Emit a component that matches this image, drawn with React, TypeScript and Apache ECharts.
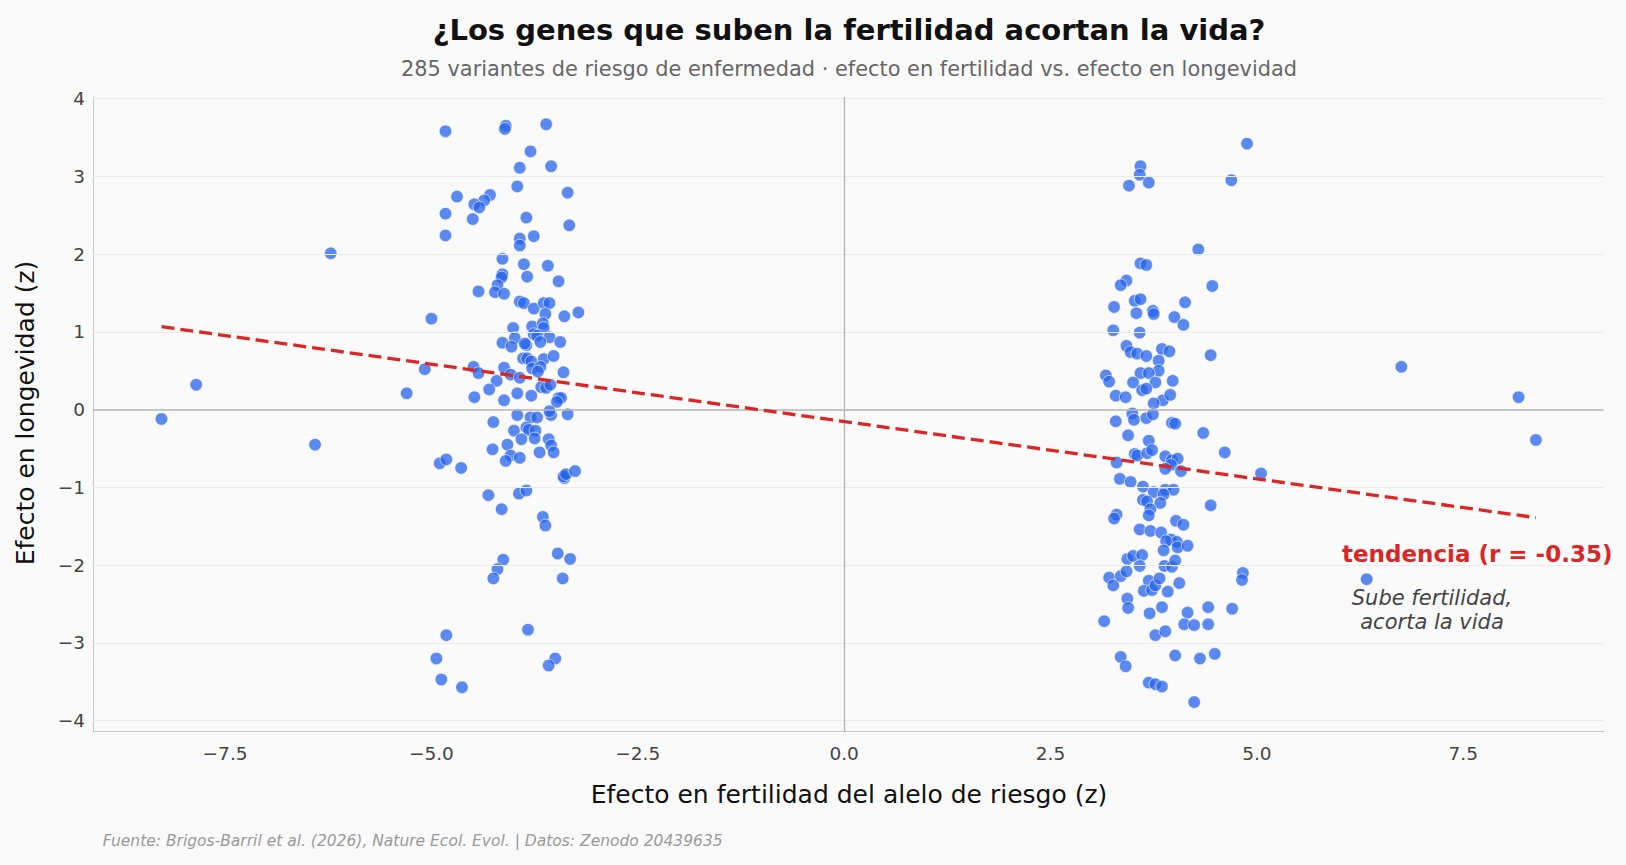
import { useEffect, useRef } from "react";
import * as echarts from "echarts";

const FONT = "DejaVu Sans";
const RED = "#dc2626";
const BLUE = "#2563eb";

// Risk alleles that lower fertility: [fertility effect z, longevity effect z]
const lowersFertility: [number, number][] = [
  [-8.27, -0.12], [-7.85, 0.32], [-6.41, -0.45], [-6.22, 2.01], [-5.3, 0.21], [-5.08, 0.52], [-5.0, 1.17],
  [-4.83, 3.58], [-4.1, 3.65], [-4.11, 3.61], [-3.61, 3.67], [-3.8, 3.32], [-3.93, 3.11], [-3.55, 3.13],
  [-3.96, 2.87], [-3.35, 2.79], [-4.69, 2.74], [-4.29, 2.76], [-4.36, 2.69], [-4.48, 2.64], [-4.42, 2.6],
  [-4.83, 2.52], [-4.5, 2.45], [-3.85, 2.47], [-3.33, 2.37], [-4.83, 2.24], [-3.93, 2.2], [-3.93, 2.11],
  [-3.76, 2.23], [-4.14, 1.94], [-3.88, 1.87], [-3.59, 1.85], [-3.84, 1.71], [-3.46, 1.65], [-4.14, 1.74],
  [-4.15, 1.7], [-4.2, 1.6], [-4.43, 1.52], [-4.23, 1.51], [-4.12, 1.49], [-3.93, 1.39], [-3.88, 1.37],
  [-3.76, 1.3], [-3.64, 1.37], [-3.57, 1.37], [-3.62, 1.23], [-3.39, 1.2], [-3.22, 1.25], [-4.01, 1.05],
  [-3.78, 1.07], [-3.65, 1.11], [-3.64, 1.05], [-3.99, 0.92], [-3.76, 0.97], [-3.72, 0.95], [-3.57, 0.93],
  [-3.44, 0.87], [-4.14, 0.86], [-4.03, 0.81], [-3.85, 0.83], [-3.87, 0.85], [-3.68, 0.87], [-3.89, 0.66],
  [-3.84, 0.66], [-3.79, 0.62], [-3.64, 0.65], [-3.52, 0.69], [-3.78, 0.53], [-3.68, 0.55], [-3.71, 0.49],
  [-3.4, 0.48], [-4.12, 0.54], [-4.49, 0.55], [-4.43, 0.47], [-4.04, 0.45], [-3.93, 0.41], [-4.21, 0.37],
  [-4.3, 0.26], [-4.48, 0.16], [-4.12, 0.12], [-3.96, 0.21], [-3.79, 0.18], [-3.67, 0.29], [-3.61, 0.28],
  [-3.56, 0.32], [-3.46, 0.15], [-3.43, 0.15], [-3.48, 0.1], [-3.96, -0.07], [-3.8, -0.1], [-3.72, -0.1],
  [-3.55, -0.07], [-3.57, -0.02], [-3.35, -0.06], [-4.25, -0.16], [-4.0, -0.27], [-3.85, -0.23], [-3.82, -0.26],
  [-3.74, -0.27], [-3.91, -0.38], [-3.75, -0.37], [-3.58, -0.38], [-3.55, -0.46], [-3.52, -0.55], [-4.26, -0.51],
  [-4.08, -0.45], [-4.04, -0.59], [-4.1, -0.66], [-3.93, -0.62], [-3.69, -0.55], [-4.9, -0.69], [-4.82, -0.64],
  [-4.64, -0.75], [-3.39, -0.88], [-3.4, -0.86], [-3.37, -0.83], [-3.26, -0.79], [-4.31, -1.1], [-3.94, -1.08],
  [-3.85, -1.04], [-4.15, -1.28], [-3.65, -1.38], [-3.62, -1.49], [-3.47, -1.85], [-3.32, -1.92], [-4.13, -1.93],
  [-4.2, -2.05], [-4.25, -2.17], [-3.41, -2.17], [-3.83, -2.83], [-4.82, -2.9], [-4.94, -3.2], [-3.5, -3.2],
  [-3.58, -3.29], [-4.88, -3.47], [-4.63, -3.57],
];

// Risk alleles that raise fertility: [fertility effect z, longevity effect z]
const raisesFertility: [number, number][] = [
  [4.88, 3.42], [3.59, 3.13], [3.58, 3.02], [3.69, 2.92], [3.45, 2.88], [4.69, 2.95], [4.29, 2.06],
  [3.59, 1.88], [3.66, 1.86], [3.42, 1.66], [3.35, 1.6], [4.46, 1.59], [3.27, 1.32], [3.52, 1.4],
  [3.59, 1.42], [3.54, 1.24], [3.74, 1.27], [3.75, 1.23], [4.0, 1.19], [4.13, 1.38], [4.11, 1.09],
  [3.26, 1.02], [3.58, 0.99], [4.44, 0.7], [3.42, 0.82], [3.47, 0.74], [3.55, 0.72], [3.66, 0.69],
  [3.85, 0.78], [3.94, 0.75], [3.81, 0.63], [3.81, 0.5], [3.59, 0.47], [3.69, 0.47], [3.17, 0.44],
  [3.21, 0.36], [3.5, 0.35], [3.77, 0.35], [3.98, 0.37], [3.61, 0.25], [3.66, 0.27], [3.29, 0.18],
  [3.41, 0.16], [3.86, 0.12], [3.95, 0.19], [3.75, 0.08], [3.49, -0.05], [3.51, -0.13], [3.66, -0.11],
  [3.74, -0.06], [3.29, -0.15], [3.97, -0.17], [4.01, -0.18], [4.35, -0.3], [3.44, -0.33], [3.69, -0.4],
  [4.61, -0.55], [3.52, -0.57], [3.55, -0.59], [3.67, -0.56], [3.73, -0.52], [3.89, -0.6], [3.3, -0.68],
  [3.97, -0.65], [4.04, -0.63], [3.96, -0.71], [3.89, -0.76], [4.08, -0.79], [5.05, -0.82], [3.34, -0.89],
  [3.47, -0.93], [3.62, -0.99], [3.75, -1.06], [3.89, -1.03], [3.99, -1.03], [3.87, -1.09], [3.62, -1.16],
  [3.67, -1.18], [3.83, -1.2], [3.71, -1.28], [4.44, -1.23], [3.3, -1.35], [3.27, -1.4], [3.69, -1.36],
  [4.02, -1.43], [4.11, -1.48], [3.58, -1.54], [3.71, -1.56], [3.84, -1.58], [3.96, -1.67], [4.03, -1.7],
  [3.9, -1.69], [3.87, -1.81], [4.04, -1.77], [4.16, -1.75], [3.43, -1.92], [3.5, -1.88], [3.61, -1.87],
  [3.58, -2.01], [3.88, -2.01], [3.97, -2.02], [4.01, -1.94], [3.21, -2.16], [3.26, -2.26], [3.35, -2.14],
  [3.42, -2.08], [3.69, -2.2], [3.63, -2.33], [3.73, -2.32], [3.77, -2.26], [3.82, -2.17], [3.92, -2.34],
  [4.06, -2.23], [4.83, -2.1], [4.82, -2.19], [3.43, -2.43], [3.44, -2.55], [3.7, -2.62], [3.85, -2.54],
  [4.16, -2.61], [4.12, -2.76], [4.24, -2.77], [4.41, -2.54], [4.41, -2.76], [4.7, -2.56], [3.15, -2.72],
  [3.77, -2.9], [3.89, -2.85], [3.35, -3.18], [3.41, -3.3], [4.01, -3.16], [4.31, -3.2], [4.49, -3.14],
  [3.69, -3.51], [3.77, -3.53], [3.85, -3.56], [4.24, -3.76],
  [6.33, -2.18], [6.75, 0.55], [8.17, 0.16], [8.38, -0.39],
];

const xTicks = [-7.5, -5, -2.5, 0, 2.5, 5, 7.5];
const yTicks = [-4, -3, -2, -1, 0, 1, 2, 3, 4];
const xRange: [number, number] = [-9.1, 9.2];
const yRange: [number, number] = [-4.14, 4.02];

// Least-squares trend of longevity on fertility
const trendSlope = -0.1475;
const trendIntercept = -0.153;
const trendR = -0.35;

const minus = (s: string) => s.replace("-", "\u2212");

export default function App() {
  const ref = useRef<HTMLDivElement>(null);

  useEffect(() => {
    document.body.style.margin = "0";
    document.body.style.background = "#fafafa";
    const chart = echarts.init(ref.current!, null, { renderer: "svg" });

    const points = [...lowersFertility, ...raisesFertility];
    const xs = points.map((p) => p[0]);
    const xLo = Math.min(...xs);
    const xHi = Math.max(...xs);
    const trendLine = [
      [xLo, trendIntercept + trendSlope * xLo],
      [xHi, trendIntercept + trendSlope * xHi],
    ];

    const guideLines = [
      ...yTicks
        .filter((v) => v !== 0)
        .map((v) => ({ yAxis: v, lineStyle: { color: "#ebebeb", width: 1, type: "solid" } })),
      { yAxis: 0, lineStyle: { color: "#b5b5b5", width: 1.5, type: "solid" } },
      { xAxis: 0, lineStyle: { color: "#b5b5b5", width: 1.3, type: "solid" } },
    ];

    chart.setOption({
      animation: false,
      backgroundColor: "#fafafa",
      textStyle: { fontFamily: FONT },
      grid: { left: 93, right: 22.4, top: 97, bottom: 133.4, containLabel: false },
      xAxis: {
        type: "value",
        min: xRange[0],
        max: xRange[1],
        axisLine: { show: true, onZero: false, lineStyle: { color: "#c4c4c4", width: 1 } },
        axisTick: { show: false, customValues: xTicks },
        splitLine: { show: false },
        axisLabel: {
          customValues: xTicks,
          formatter: (v: number) => minus(v.toFixed(1)),
          fontSize: 18.5,
          color: "#444",
          margin: 12,
          fontFamily: FONT,
        },
      },
      yAxis: {
        type: "value",
        min: yRange[0],
        max: yRange[1],
        axisLine: { show: true, onZero: false, lineStyle: { color: "#c4c4c4", width: 1 } },
        axisTick: { show: false, customValues: yTicks },
        splitLine: { show: false },
        axisLabel: {
          customValues: yTicks,
          formatter: (v: number) => minus(String(v)),
          fontSize: 18.5,
          color: "#444",
          margin: 8,
          fontFamily: FONT,
        },
      },
      series: [
        {
          type: "line",
          data: [],
          z: 1,
          silent: true,
          markLine: {
            silent: true,
            symbol: ["none", "none"],
            label: { show: false },
            emphasis: { disabled: true },
            data: guideLines,
          },
        },
        {
          type: "scatter",
          data: points,
          symbolSize: 12.5,
          z: 3,
          itemStyle: { color: BLUE, opacity: 0.75, borderColor: "#ffffff", borderWidth: 0.8 },
          emphasis: { disabled: true },
        },
        {
          type: "line",
          data: trendLine,
          z: 5,
          symbol: "none",
          silent: true,
          lineStyle: { color: RED, width: 3.3, type: [13, 6] },
        },
      ],
      graphic: [
        {
          type: "text",
          x: 849,
          y: 30,
          style: {
            text: "¿Los genes que suben la fertilidad acortan la vida?",
            font: `bold 29px "${FONT}"`,
            fill: "#111",
            textAlign: "center",
            textVerticalAlign: "middle",
          },
        },
        {
          type: "text",
          x: 849,
          y: 69,
          style: {
            text: "285 variantes de riesgo de enfermedad · efecto en fertilidad vs. efecto en longevidad",
            font: `20.9px "${FONT}"`,
            fill: "#666",
            textAlign: "center",
            textVerticalAlign: "middle",
          },
        },
        {
          type: "text",
          x: 849,
          y: 794,
          style: {
            text: "Efecto en fertilidad del alelo de riesgo (z)",
            font: `25px "${FONT}"`,
            fill: "#111",
            textAlign: "center",
            textVerticalAlign: "middle",
          },
        },
        {
          type: "text",
          x: 25,
          y: 413,
          rotation: Math.PI / 2,
          style: {
            text: "Efecto en longevidad (z)",
            font: `25px "${FONT}"`,
            fill: "#111",
            textAlign: "center",
            textVerticalAlign: "middle",
          },
        },
        {
          type: "text",
          x: 102.7,
          y: 841,
          style: {
            text: "Fuente: Brigos-Barril et al. (2026), Nature Ecol. Evol. | Datos: Zenodo 20439635",
            font: `italic 15.5px "${FONT}"`,
            fill: "#999",
            textAlign: "left",
            textVerticalAlign: "middle",
          },
        },
        {
          type: "text",
          x: 1342,
          y: 553.8,
          style: {
            text: `tendencia (r = ${trendR.toFixed(2)})`,
            font: `bold 23px "${FONT}"`,
            fill: RED,
            textAlign: "left",
            textVerticalAlign: "middle",
          },
        },
        {
          type: "text",
          x: 1432,
          y: 610,
          style: {
            text: "Sube fertilidad,\nacorta la vida",
            font: `italic 21px "${FONT}"`,
            lineHeight: 24,
            fill: "#444",
            textAlign: "center",
            textVerticalAlign: "middle",
          },
        },
      ],
    });

    return () => chart.dispose();
  }, []);

  return <div ref={ref} style={{ width: 1626, height: 865 }} />;
}
